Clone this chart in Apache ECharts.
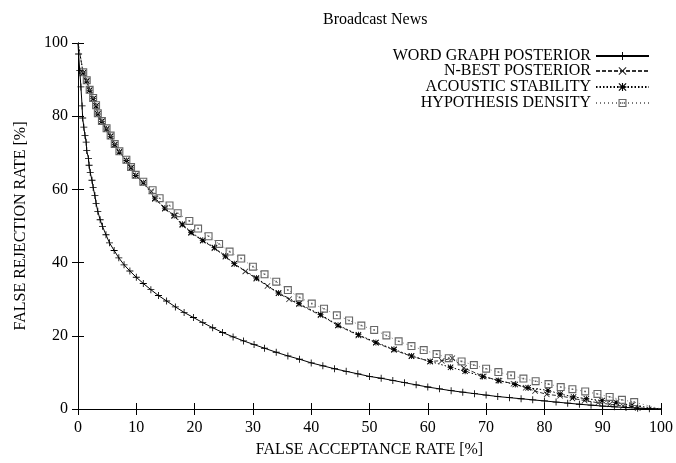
<!DOCTYPE html>
<html>
<head>
<meta charset="utf-8">
<script src="https://cdn.jsdelivr.net/npm/echarts@6/dist/echarts.min.js"></script>
<style>html,body{margin:0;padding:0;background:#fff;}#c{width:676px;height:463px;}</style>
</head>
<body>
<div id="c"></div>
<script>
var titleText = 'Broadcast News';
var xName = 'FALSE ACCEPTANCE RATE [%]';
var yName = 'FALSE REJECTION RATE [%]';
var seriesNames = ['WORD GRAPH POSTERIOR', 'N-BEST POSTERIOR', 'ACOUSTIC STABILITY', 'HYPOTHESIS DENSITY'];
var xTicks = [0, 10, 20, 30, 40, 50, 60, 70, 80, 90, 100];
var yTicks = [0, 20, 40, 60, 80, 100];

var wgX = [0, 0.1, 0.3, 0.5, 0.7, 0.8, 1.0, 1.2, 1.4, 1.5, 1.8, 1.9, 2.1, 2.4, 2.6, 2.9, 3.1, 3.4, 3.8, 4.2, 4.8, 5.4, 6.2, 7, 7.9, 8.9, 10, 11.2, 12.5, 13.8, 15.2, 16.7, 18.2, 19.8, 21.4, 23.1, 24.8, 26.6, 28.4, 30.2, 32, 34, 36, 38, 40, 42, 44, 46, 48, 50, 52, 54, 56, 58, 60, 62, 64, 66, 68, 70, 72, 74, 76, 78, 80, 82, 84, 86, 88, 90, 92, 94, 96, 98, 100];
var wgY = [100, 97, 92.5, 88, 82.8, 79.5, 77, 74.7, 72.9, 70.6, 68.4, 66.6, 64.6, 62.5, 60.5, 58.3, 56.2, 54, 51.7, 49.9, 47.6, 45.4, 43.3, 41.3, 39.4, 37.7, 36, 34.3, 32.6, 31, 29.5, 27.9, 26.4, 25, 23.6, 22.2, 20.9, 19.7, 18.6, 17.6, 16.6, 15.5, 14.5, 13.6, 12.6, 11.8, 11, 10.3, 9.6, 8.9, 8.4, 7.8, 7.2, 6.6, 6.0, 5.5, 5.0, 4.6, 4.2, 3.8, 3.4, 3.1, 2.8, 2.5, 2.2, 1.9, 1.6, 1.3, 1.05, 0.8, 0.6, 0.4, 0.2, 0.1, 0];

var nbX = [0, 0.9, 1.5, 2.0, 2.6, 3.1, 3.4, 4.1, 4.9, 5.6, 6.3, 7.1, 8.3, 9.1, 9.9, 11.2, 12.6, 13.2, 14.9, 16.5, 17.9, 19.4, 21.4, 23.4, 25.3, 26.8, 28.7, 30.6, 32.5, 34.4, 36.2, 37.9, 41.6, 44.6, 48.1, 51.1, 54.2, 57.2, 60.4, 62.4, 64.2, 66.2, 69.6, 72.3, 74.7, 76.8, 78.4, 80.4, 82.7, 84.8, 86.9, 89.2, 91.2, 93.5, 96, 100];
var nbY = [100, 91.8, 89.6, 87.1, 84.8, 82.8, 80.6, 78.6, 76.5, 74.5, 72.2, 70.2, 67.9, 65.9, 63.8, 61.8, 59.5, 57.4, 54.7, 52.7, 50.3, 48.1, 46.0, 43.9, 41.6, 39.6, 37.6, 35.6, 33.6, 31.6, 30.0, 28.6, 25.6, 22.8, 20.1, 18.1, 16.1, 14.4, 13.0, 13.2, 13.9, 11.2, 8.9, 7.7, 6.9, 5.8, 4.9, 4.0, 3.6, 2.9, 2.3, 1.7, 1.3, 0.8, 0.3, 0];

var asX = [0, 0.9, 1.5, 2.0, 2.6, 3.1, 3.4, 4.1, 4.9, 5.6, 6.3, 7.1, 8.3, 9.1, 9.9, 11.2, 13.2, 14.9, 16.5, 17.9, 19.4, 21.4, 23.4, 25.3, 26.8, 30.6, 34.4, 37.9, 41.6, 44.6, 48.1, 51.1, 54.2, 57.2, 60.4, 63.9, 66.4, 69.4, 72.1, 75, 77.2, 80.6, 82.7, 85, 87.2, 89.9, 92.3, 95, 100];
var asY = [100, 91.8, 89.6, 87.1, 84.8, 82.8, 80.6, 78.6, 76.5, 74.5, 72.2, 70.2, 67.9, 65.9, 63.8, 61.8, 57.6, 54.9, 52.9, 50.5, 48.3, 46.1, 44.1, 41.8, 39.7, 35.8, 31.7, 28.8, 25.8, 22.9, 20.3, 18.2, 16.3, 14.5, 13, 11.4, 10.3, 8.9, 7.8, 6.7, 5.8, 5.1, 4.1, 3.3, 2.8, 2.3, 1.8, 1.0, 0];

var hdX = [0, 0.9, 1.5, 2.0, 2.6, 3.1, 3.4, 4.1, 4.9, 5.6, 6.3, 7.1, 8.3, 9.1, 9.9, 11.2, 12.8, 14, 15.7, 17.1, 19.1, 20.6, 22.4, 24.2, 26, 28, 30, 32, 34, 36, 38, 40.1, 42.2, 44.4, 46.5, 48.6, 50.8, 52.9, 55, 57.2, 59.3, 61.5, 63.6, 65.8, 67.9, 70, 72.1, 74.3, 76.4, 78.5, 80.7, 82.8, 84.8, 87, 89.1, 91.2, 93.3, 95.4, 100];
var hdY = [100, 92, 89.8, 87.2, 85, 83, 80.8, 78.7, 76.7, 74.7, 72.4, 70.4, 68.1, 66.1, 64, 62.1, 59.8, 57.6, 55.6, 53.5, 51.4, 49.3, 47.2, 45.1, 43, 41.1, 38.9, 36.8, 34.8, 32.5, 30.5, 28.8, 27.4, 25.6, 24.2, 22.8, 21.6, 20.1, 18.5, 17.2, 16.1, 15, 13.9, 13, 12, 11, 10.1, 9.2, 8.3, 7.6, 6.8, 6, 5.4, 4.8, 4.1, 3.3, 2.5, 1.9, 0];

function zip(xs, ys) {
  return xs.map(function (x, i) {
    var item = {value: [x, ys[i]]};
    if (i === 0 || i === xs.length - 1) item.symbol = 'none';
    return item;
  });
}

var FONT = 'Liberation Serif';
var plusSym = 'path://M4.4,0H5.6V10H4.4ZM0,4.4H10V5.6H0Z';
var crossSym = 'path://M0,0.9L0.9,0L10,9.1L9.1,10ZM9.1,0L10,0.9L0.9,10L0,9.1Z';
var starSym = 'path://M4.3,0H5.7V10H4.3ZM0,4.3H10V5.7H0ZM0,1L1,0L10,9L9,10ZM9,0L10,1L1,10L0,9Z';
var boxSym = 'path://M0,0H10V10H0ZM1.4,1.4V8.6H8.6V1.4ZM4,4H6V6H4Z';

var chart = echarts.init(document.getElementById('c'), null, {renderer: 'canvas'});

function axisCommon(extra) {
  var base = {
    type: 'value', min: 0,
    axisLine: {show: true, lineStyle: {color: '#000', width: 1}},
    axisTick: {show: true, inside: true, length: 6, lineStyle: {color: '#000', width: 1}},
    splitLine: {show: false},
    axisLabel: {show: true, color: '#000', fontFamily: FONT, fontSize: 16}
  };
  for (var k in extra) base[k] = extra[k];
  return base;
}

var legendTops = [48, 63, 79, 95];
var legends = seriesNames.map(function (n, i) {
  return {
    data: [n], right: 26, top: legendTops[i], orient: 'vertical', align: 'right',
    itemWidth: 53, itemHeight: 10, selectedMode: false, padding: 0,
    textStyle: {color: '#000', fontFamily: FONT, fontSize: 16}
  };
});

chart.setOption({
  animation: false,
  backgroundColor: '#fff',
  title: {text: titleText, left: 318, top: 7, textStyle: {color: '#000', fontFamily: FONT, fontSize: 16, fontWeight: 'normal'}},
  legend: legends,
  grid: {left: 78, right: 13, top: 43, bottom: 50, containLabel: false},
  xAxis: [
    axisCommon({position: 'bottom', max: 100, interval: 10, name: xName, nameLocation: 'middle', nameGap: 33,
      nameTextStyle: {color: '#000', fontFamily: FONT, fontSize: 16},
      axisLabel: {show: true, color: '#000', fontFamily: FONT, fontSize: 16, margin: 11,
        formatter: function (v) { return xTicks.indexOf(v) >= 0 ? String(v) : ''; }}}),
    axisCommon({position: 'top', max: 100, interval: 10, axisLabel: {show: false}})
  ],
  yAxis: [
    axisCommon({position: 'left', max: 100, interval: 20, name: yName, nameLocation: 'middle', nameGap: 49,
      nameTextStyle: {color: '#000', fontFamily: FONT, fontSize: 16},
      axisLabel: {show: true, color: '#000', fontFamily: FONT, fontSize: 16, margin: 10,
        formatter: function (v) { return yTicks.indexOf(v) >= 0 ? String(v) : ''; }}}),
    axisCommon({position: 'right', max: 100, interval: 20, axisLabel: {show: false}})
  ],
  series: [
    {name: seriesNames[0], type: 'line', data: zip(wgX, wgY), symbol: plusSym, symbolSize: 7, showAllSymbol: true,
      lineStyle: {color: '#000', width: 1}, itemStyle: {color: '#000'}, z: 5},
    {name: seriesNames[1], type: 'line', data: zip(nbX, nbY), symbol: crossSym, symbolSize: 6, showAllSymbol: true,
      lineStyle: {color: '#333', width: 1, type: [4, 2]}, itemStyle: {color: '#222'}, z: 2},
    {name: seriesNames[2], type: 'line', data: zip(asX, asY), symbol: starSym, symbolSize: 6, showAllSymbol: true,
      lineStyle: {color: '#000', width: 1, type: [1.5, 2]}, itemStyle: {color: '#000'}, z: 3},
    {name: seriesNames[3], type: 'line', data: zip(hdX, hdY), symbol: boxSym, symbolSize: 8, showAllSymbol: true,
      lineStyle: {color: '#777', width: 1, type: [1, 3]}, itemStyle: {color: '#666'}, z: 4}
  ]
});
</script>
</body>
</html>
